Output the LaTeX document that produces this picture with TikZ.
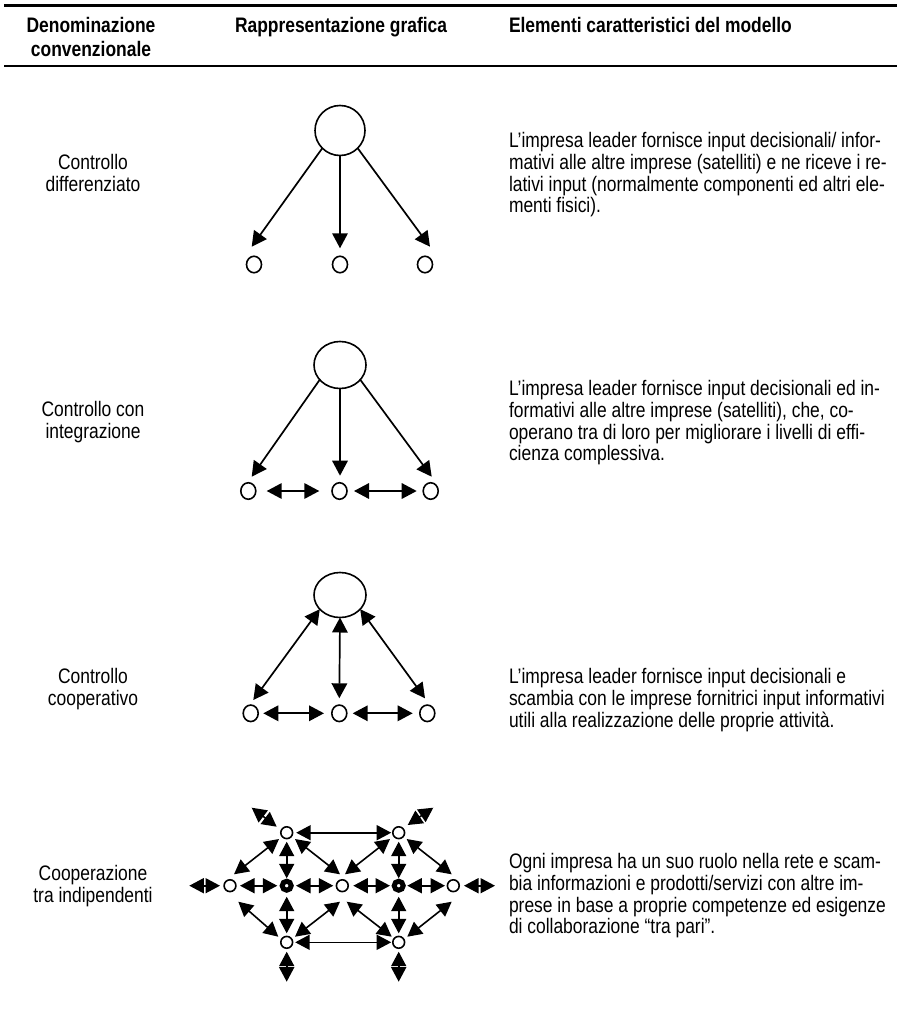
\documentclass[tikz,border=0pt]{standalone}
\usepackage{fontspec}
\setmainfont{Liberation Sans}[FakeStretch=0.83]
\usetikzlibrary{arrows.meta,shapes.geometric}
\begin{document}
\begin{tikzpicture}[x=1pt,y=-1pt,
  every node/.style={inner sep=0pt, outer sep=0pt},
  big/.style={ellipse, draw, line width=1.6pt},
  small/.style={ellipse, draw, line width=1.6pt, minimum width=15pt, minimum height=16.5pt},
  tiny/.style={circle, draw, line width=1.6pt, minimum size=11.8pt},
  hub/.style={circle, draw, line width=5pt, minimum size=9pt},
  arr/.style={line width=1.7pt, -{Triangle[length=15pt,width=15.5pt]}},
  darr/.style={line width=1.7pt, {Triangle[length=15pt,width=15.5pt]}-{Triangle[length=15pt,width=15.5pt]}},
  narr/.style={line width=1.6pt, {Triangle[length=14.5pt,width=15pt]}-{Triangle[length=14.5pt,width=15pt]}},
  head/.style={font=\bfseries\fontsize{21}{24}\selectfont},
  lab/.style={anchor=north, align=center, font=\fontsize{21}{21.3}\selectfont},
  txt/.style={anchor=north west, align=left, font=\fontsize{21}{21.3}\selectfont}]
\useasboundingbox[fill=white] (0,0) rectangle (897,1022);
% header
\draw[line width=2.6pt] (4,5.5) -- (897,5.5);
\draw[line width=2.6pt] (4,66) -- (897,66);
\node[head, anchor=north, align=center] (h1) at (91,15.7) {\strut Denominazione\\convenzionale};
\node[head, anchor=north west] (h2) at (235,15.7) {\strut Rappresentazione grafica};
\node[head, anchor=north west] (h3) at (509,15.7) {\strut Elementi caratteristici del modello};
% labels
\node[lab] (l1) at (93,154) {\strut Controllo\\differenziato};
\node[lab] (l2) at (93,401) {\strut Controllo con\\integrazione};
\node[lab] (l3) at (93,668) {\strut Controllo\\cooperativo};
\node[lab] (l4) at (93,865) {\strut Cooperazione\\tra indipendenti};
% texts
\node[txt] (t1) at (509,132) {\strut L’impresa leader fornisce input decisionali/ infor-\\mativi alle altre imprese (satelliti) e ne riceve i re-\\lativi input (normalmente componenti ed altri ele-\\menti fisici).};
\node[txt] (t2) at (509,380) {\strut L’impresa leader fornisce input decisionali ed in-\\formativi alle altre imprese (satelliti), che, co-\\operano tra di loro per migliorare i livelli di effi-\\cienza complessiva.};
\node[txt] (t3) at (509,668) {\strut L’impresa leader fornisce input decisionali e\\scambia con le imprese fornitrici input informativi\\utili alla realizzazione delle proprie attività.};
\node[txt] (t4) at (509,853) {\strut Ogni impresa ha un suo ruolo nella rete e scam-\\bia informazioni e prodotti/servizi con altre im-\\prese in base a proprie competenze ed esigenze\\di collaborazione “tra pari”.};
% diagram 1
\node[big, minimum width=50pt, minimum height=50pt] (a0) at (340,130.5) {};
\node[small] (a1) at (254,264.5) {};
\node[small] (a2) at (340,264.5) {};
\node[small] (a3) at (425,264.5) {};
\draw[arr] (a0.-135) -- ([shift={(-2.3,-17.8)}]a1.center);
\draw[arr] (a0.south) -- ([shift={(0,-16.2)}]a2.center);
\draw[arr] (a0.-45) -- ([shift={(5,-17.8)}]a3.center);
% diagram 2
\node[big, minimum width=52pt, minimum height=47pt] (b0) at (340,365) {};
\node[small] (b1) at (248.3,491) {};
\node[small] (b2) at (339.5,491) {};
\node[small] (b3) at (430.7,491) {};
\draw[arr] (b0.-144) -- ([shift={(3.4,-14.3)}]b1.center);
\draw[arr] (b0.south) -- ([shift={(0.5,-15.3)}]b2.center);
\draw[arr] (b0.-36) -- ([shift={(1,-14.3)}]b3.center);
\draw[darr] ([shift={(18.4,0)}]b1.center) -- ([shift={(-20.2,0)}]b2.center);
\draw[darr] ([shift={(14.5,0)}]b2.center) -- ([shift={(-14,0)}]b3.center);
% diagram 3
\node[big, minimum width=52pt, minimum height=45pt] (c0) at (340,595) {};
\node[small] (c1) at (250.7,713.3) {};
\node[small] (c2) at (339.3,713.3) {};
\node[small] (c3) at (427.3,713.3) {};
\draw[darr] (c0.-145) -- ([shift={(2.6,-13.3)}]c1.center);
\draw[darr] (c0.south) -- ([shift={(0,-15)}]c2.center);
\draw[darr] (c0.-35) -- ([shift={(-2.3,-15)}]c3.center);
\draw[darr] ([shift={(12.6,0)}]c1.center) -- ([shift={(-15.3,0)}]c2.center);
\draw[darr] ([shift={(13.4,0)}]c2.center) -- ([shift={(-14.6,0)}]c3.center);
% diagram 4
\node[tiny] (TL) at (286.7,832.7) {};
\node[tiny] (TR) at (398.7,832.7) {};
\node[tiny] (L) at (230,885.7) {};
\node[hub] (C1) at (286.7,885.7) {};
\node[tiny] (M) at (342.3,885.7) {};
\node[hub] (C2) at (398.7,885.7) {};
\node[tiny] (R) at (453.3,885.7) {};
\node[tiny] (BL) at (286.7,942.3) {};
\node[tiny] (BR) at (398.7,942.3) {};
\draw[narr] ([shift={(9.5,0)}]TL.center) -- ([shift={(-7.5,0)}]TR.center);
\draw[narr] ([shift={(8.5,0)}]BL.center) -- ([shift={(-7.5,0)}]BR.center);
\draw[narr] ([shift={(-7.7,6.3)}]TL.center) -- ([shift={(4,-11.4)}]L.center);
\draw[narr] ([shift={(0,9)}]TL.center) -- ([shift={(0,-7.4)}]C1.center);
\draw[narr] ([shift={(8.3,6.3)}]TL.center) -- ([shift={(-2.3,-11.4)}]M.center);
\draw[narr] ([shift={(-8.7,6.3)}]TR.center) -- ([shift={(2.7,-11.4)}]M.center);
\draw[narr] ([shift={(0,9)}]TR.center) -- ([shift={(0,-7.4)}]C2.center);
\draw[narr] ([shift={(8,6.3)}]TR.center) -- ([shift={(-1.6,-11.4)}]R.center);
\draw[narr] ([shift={(10,0)}]L.center) -- ([shift={(-9.4,0)}]C1.center);
\draw[narr] ([shift={(9.3,0)}]C1.center) -- ([shift={(-9,0)}]M.center);
\draw[narr] ([shift={(11,0)}]M.center) -- ([shift={(-8.7,0)}]C2.center);
\draw[narr] ([shift={(8.6,0)}]C2.center) -- ([shift={(-8.3,0)}]R.center);
\draw[narr] ([shift={(8.3,16)}]L.center) -- ([shift={(-8.4,-5.6)}]BL.center);
\draw[narr] ([shift={(0,11)}]C1.center) -- ([shift={(0,-9)}]BL.center);
\draw[narr] ([shift={(-2.3,16)}]M.center) -- ([shift={(8.3,-5.6)}]BL.center);
\draw[narr] ([shift={(4.4,16)}]M.center) -- ([shift={(-7,-5.6)}]BR.center);
\draw[narr] ([shift={(0,11)}]C2.center) -- ([shift={(0,-9)}]BR.center);
\draw[narr] ([shift={(-1.6,16)}]R.center) -- ([shift={(8.6,-5.6)}]BR.center);
% outer arrows
\coordinate (oL) at ([shift={(-40.7,0)}]L.center);
\coordinate (oR) at ([shift={(41.7,0)}]R.center);
\coordinate (oTL) at ([shift={(-35,-25)}]TL.center);
\coordinate (oTR) at ([shift={(34.6,-25)}]TR.center);
\coordinate (oBL) at ([shift={(0,39.4)}]BL.center);
\coordinate (oBR) at ([shift={(0,39.4)}]BR.center);
\draw[narr] (oL) -- ([shift={(-10,0)}]L.center);
\draw[narr] ([shift={(10.7,0)}]R.center) -- (oR);
\draw[narr] (oTL) -- ([shift={(-10,-6)}]TL.center);
\draw[narr] (oTR) -- ([shift={(9,-7.7)}]TR.center);
\draw[narr] ([shift={(0,9.4)}]BL.center) -- (oBL);
\draw[narr] ([shift={(0,9.4)}]BR.center) -- (oBR);
\end{tikzpicture}
\end{document}
